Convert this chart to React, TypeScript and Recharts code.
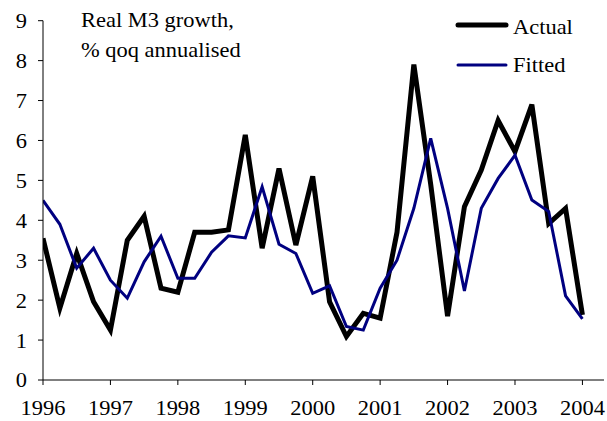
import React from 'react';
import { LineChart, Line, XAxis, YAxis, Legend, Customized } from 'recharts';

const quarters = [
  1996, 1996.25, 1996.5, 1996.75,
  1997, 1997.25, 1997.5, 1997.75,
  1998, 1998.25, 1998.5, 1998.75,
  1999, 1999.25, 1999.5, 1999.75,
  2000, 2000.25, 2000.5, 2000.75,
  2001, 2001.25, 2001.5, 2001.75,
  2002, 2002.25, 2002.5, 2002.75,
  2003, 2003.25, 2003.5, 2003.75,
  2004,
];

const actual = [
  3.55, 1.8, 3.17, 1.96,
  1.25, 3.5, 4.1, 2.3,
  2.2, 3.7, 3.7, 3.76,
  6.14, 3.3, 5.3, 3.38,
  5.1, 1.96, 1.09, 1.67,
  1.55, 3.7, 7.9, 4.9,
  1.6, 4.34, 5.26, 6.5,
  5.72, 6.9, 3.92, 4.3,
  1.63,
];

const fitted = [
  4.5, 3.9, 2.8, 3.3,
  2.5, 2.05, 2.96, 3.6,
  2.55, 2.55, 3.2, 3.61,
  3.56, 4.84, 3.4, 3.17,
  2.17, 2.36, 1.34, 1.25,
  2.3, 3.0, 4.3, 6.05,
  4.3, 2.23, 4.3, 5.05,
  5.63, 4.51, 4.22, 2.11,
  1.53,
];

const yearTicks = [1996, 1997, 1998, 1999, 2000, 2001, 2002, 2003, 2004];
const valueTicks = [0, 1, 2, 3, 4, 5, 6, 7, 8, 9];
const noteLines = ['Real M3 growth,', '% qoq annualised'];
const seriesNames = { actual: 'Actual', fitted: 'Fitted' };

const data = quarters.map((q, i) => ({ q, actual: actual[i], fitted: fitted[i] }));

const FONT = '"Liberation Serif", "Times New Roman", serif';
const FS = 21;
const SX = 1.07;

const Note = () => (
  <g>
    {noteLines.map((t, i) => (
      <text
        key={t}
        transform={`translate(81,${27 + i * 30}) scale(${SX},1)`}
        fontFamily={FONT}
        fontSize={FS}
        fill="#000"
      >
        {t}
      </text>
    ))}
  </g>
);

const XTick = (props: any) => {
  const { x, y, payload } = props;
  return (
    <text
      transform={`translate(${x},${y}) scale(${SX},1)`}
      textAnchor="middle"
      dy="0.71em"
      fontFamily={FONT}
      fontSize={FS}
      fill="#000"
    >
      {payload.value}
    </text>
  );
};

const YTick = (props: any) => {
  const { x, y, payload } = props;
  return (
    <text
      transform={`translate(${x},${y}) scale(${SX},1)`}
      textAnchor="end"
      dy="0.355em"
      fontFamily={FONT}
      fontSize={FS}
      fill="#000"
    >
      {payload.value}
    </text>
  );
};

const LegendContent = (props: any) => {
  const payload = props.payload || [];
  return (
    <svg width={150} height={75} style={{ display: 'block' }}>
      {payload.map((p: any, i: number) => (
        <g key={p.value}>
          <line
            x1={5}
            x2={53}
            y1={15 + i * 40}
            y2={15 + i * 40}
            stroke={p.color}
            strokeWidth={p.value === 'Actual' ? 5 : 3}
            strokeLinecap="round"
          />
          <text
            transform={`translate(60,${24 + i * 38}) scale(${SX},1)`}
            fontFamily={FONT}
            fontSize={FS}
            fill="#000"
          >
            {p.value}
          </text>
        </g>
      ))}
    </svg>
  );
};

export default function App() {
  return (
    <div style={{ position: 'absolute', left: 0, top: 0, width: 607, height: 421, background: '#fff' }}>
      <LineChart
        width={607}
        height={421}
        data={data}
        margin={{ top: 20.7, right: 3, left: 0, bottom: 0 }}
      >
        <XAxis
          dataKey="q"
          type="number"
          domain={[1996, 2004.32]}
          ticks={yearTicks}
          allowDataOverflow
          height={41}
          tickSize={5}
          tickMargin={15.5}
          axisLine={{ stroke: '#000', strokeWidth: 1 }}
          tickLine={{ stroke: '#000', strokeWidth: 1 }}
          tick={<XTick />}
          interval={0}
        />
        <YAxis
          type="number"
          domain={[0, 9]}
          ticks={valueTicks}
          width={43}
          tickSize={5}
          tickMargin={11}
          axisLine={{ stroke: '#000', strokeWidth: 1 }}
          tickLine={{ stroke: '#000', strokeWidth: 1 }}
          tick={<YTick />}
          interval={0}
        />
        <Line
          type="linear"
          dataKey="actual"
          name={seriesNames.actual}
          stroke="#000000"
          strokeWidth={5}
          dot={false}
          activeDot={false}
          isAnimationActive={false}
        />
        <Line
          type="linear"
          dataKey="fitted"
          name={seriesNames.fitted}
          stroke="#000080"
          strokeWidth={3}
          dot={false}
          activeDot={false}
          isAnimationActive={false}
        />
        <Legend
          layout="vertical"
          align="center"
          verticalAlign="middle"
          content={LegendContent}
          wrapperStyle={{ position: 'absolute', left: 453, top: 10, width: 150, height: 75 }}
        />
        <Customized component={Note} />
      </LineChart>
    </div>
  );
}
